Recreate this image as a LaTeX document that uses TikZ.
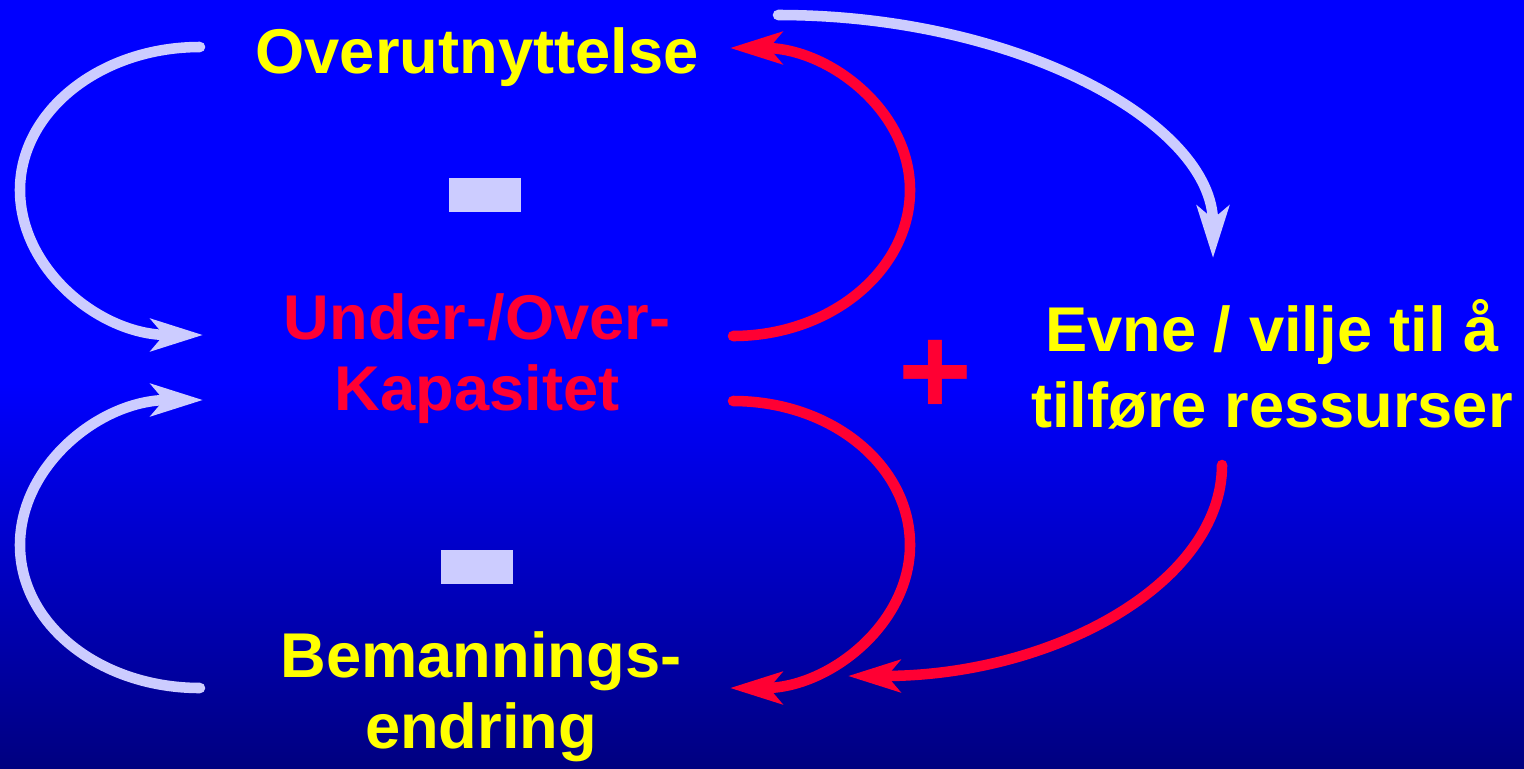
\documentclass[tikz,border=0pt]{standalone}
\usepackage{fontspec}
\setmainfont{Liberation Sans}
\usetikzlibrary{arrows.meta}
\definecolor{bgblue}{RGB}{0,0,255}
\definecolor{bgdark}{RGB}{0,0,128}
\definecolor{lbl}{RGB}{255,255,0}
\definecolor{rd}{RGB}{255,0,51}
\definecolor{lav}{RGB}{204,204,255}
\tikzset{
  lbltext/.style={font=\bfseries\fontsize{36}{40.4}\selectfont, inner sep=0pt, align=center, anchor=base},
  conn/.style={line width=6pt, line cap=round,
    -{Stealth[length=1.04cm,width=0.64cm,inset=0.26cm]}},
  lavconn/.style={conn, draw=lav},
  redconn/.style={conn, draw=rd},
}
\begin{document}
\begin{tikzpicture}[x=0.02cm,y=-0.02cm]
\useasboundingbox (0,0) rectangle (1524,768);
\fill[bgblue] (0,0) rectangle (1524,384);
\shade[top color=bgblue, bottom color=bgdark] (0,383) rectangle (1524,768);

% labels (anchor = baseline of last line)
\node[lbltext, text=lbl] (over) at (477,73) {Overutnyttelse};
\node[lbltext, text=rd] (kap) at (477,410) {Under-/Over-\\Kapasitet};
\node[lbltext, text=lbl] (bem) at (481,748) {Bemannings-\\endring};
\node[lbltext, text=lbl, font=\bfseries\fontsize{36}{43.2}\selectfont] (evne) at (1272,427) {Evne / vilje til å\\tilføre ressurser};

% signs
\fill[lav] (449,178) rectangle (521,212);
\fill[lav] (441,550) rectangle (513,584);
\node[inner sep=0pt, anchor=base, text=rd, font=\bfseries\fontsize{72}{80}\selectfont] (plus) at (935,414) {+};

% connector ends
\coordinate (a1) at (200,47);   \coordinate (j1) at (20,190);  \coordinate (e1) at (203,335);
\coordinate (a2) at (200,688);  \coordinate (j2) at (20,545);  \coordinate (e2) at (203,400);
\coordinate (a3) at (733,336);  \coordinate (j3) at (910,190); \coordinate (e3) at (730,48);
\coordinate (a4) at (733,401);  \coordinate (j4) at (910,545); \coordinate (e4) at (730,688);
\coordinate (a5) at (1222,465); \coordinate (e5) at (848,676);
\coordinate (a6) at (778,15);   \coordinate (e6) at (1213,258);

\draw[lavconn] (a1) .. controls (100.6,47) and (20,111) .. (j1)
                    .. controls (20,270) and (100.6,335) .. (e1);
\draw[lavconn] (a2) .. controls (100.6,688) and (20,625) .. (j2)
                    .. controls (20,465) and (100.6,400) .. (e2);
\draw[redconn] (a3) .. controls (831,336) and (910,270) .. (j3)
                    .. controls (910,110) and (828,48) .. (e3);
\draw[redconn] (a4) .. controls (831,401) and (910,465) .. (j4)
                    .. controls (910,625) and (828,688) .. (e4);
\draw[redconn] (a5) .. controls (1222,582) and (1055,676) .. (e5);
\draw[lavconn] (a6) .. controls (1018,15) and (1213,124) .. (e6);
\end{tikzpicture}
\end{document}
